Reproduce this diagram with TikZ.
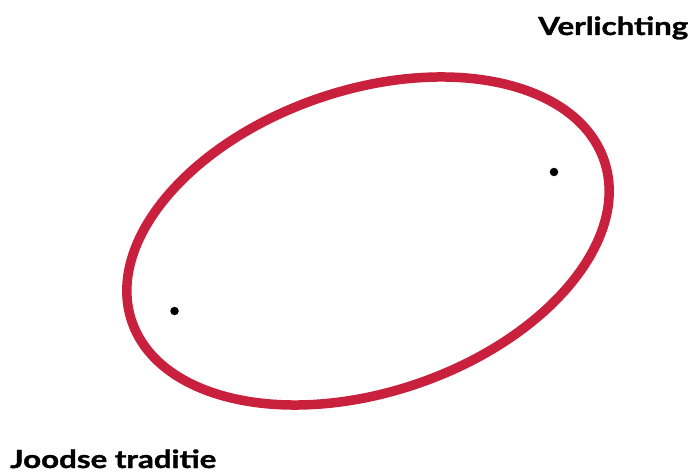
\documentclass[tikz,border=0pt]{standalone}
\usepackage{fontspec}
\setmainfont{Lato}[BoldFeatures={FakeBold=1.2}]
\definecolor{ringred}{RGB}{201,33,61}
\begin{document}
\begin{tikzpicture}[x=1pt,y=-1pt,
  ring/.style={draw=ringred,line width=9.5pt},
  pt/.style={circle,fill=black,inner sep=0pt,minimum size=8.5pt},
  lbl/.style={anchor=base west,inner sep=0pt,xscale=1.25,font=\fontsize{25}{28}\selectfont\bfseries}]
\useasboundingbox (0,0) rectangle (693,476);
\coordinate (c) at (368,241);
\draw[ring,rotate around={18.8:(c)}] (c) ellipse [x radius=249.5, y radius=151];
\node[pt] (p1) at (554,172) {};
\node[pt] (p2) at (174.5,311) {};
\node[lbl] (v) at (538,35) {Verlichting};
\node[lbl] (j) at (10,468) {Joodse traditie};
\end{tikzpicture}
\end{document}
